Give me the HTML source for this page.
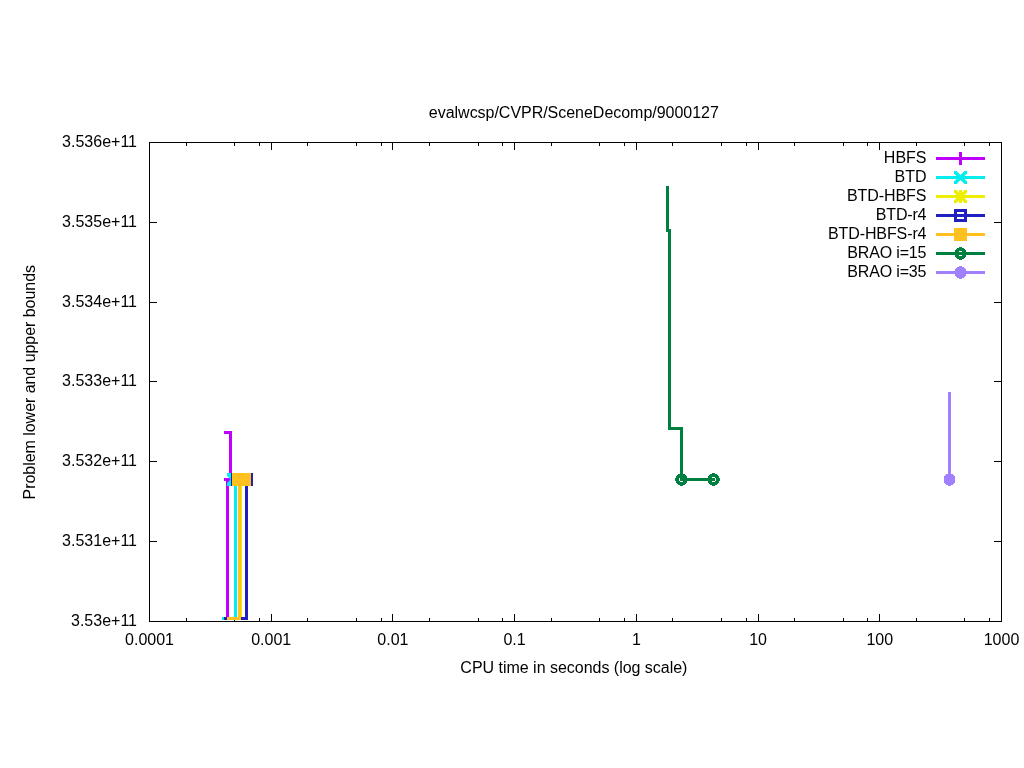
<!DOCTYPE html>
<html><head><meta charset="utf-8"><style>
html,body{margin:0;padding:0;background:#fff;}
svg{display:block;will-change:transform;}
</style></head><body>
<svg width="1024" height="768" viewBox="0 0 1024 768">
<rect width="1024" height="768" fill="#fff"/>
<g shape-rendering="crispEdges">
<rect x="149" y="142" width="853" height="1" fill="#000"/>
<rect x="149" y="621" width="853" height="1" fill="#000"/>
<rect x="149" y="142" width="1" height="480" fill="#000"/>
<rect x="1001" y="142" width="1" height="480" fill="#000"/>
<rect x="149" y="222" width="8" height="1" fill="#000"/>
<rect x="994" y="222" width="8" height="1" fill="#000"/>
<rect x="149" y="302" width="8" height="1" fill="#000"/>
<rect x="994" y="302" width="8" height="1" fill="#000"/>
<rect x="149" y="381" width="8" height="1" fill="#000"/>
<rect x="994" y="381" width="8" height="1" fill="#000"/>
<rect x="149" y="461" width="8" height="1" fill="#000"/>
<rect x="994" y="461" width="8" height="1" fill="#000"/>
<rect x="149" y="541" width="8" height="1" fill="#000"/>
<rect x="994" y="541" width="8" height="1" fill="#000"/>
<rect x="186" y="618" width="1" height="4" fill="#000"/>
<rect x="186" y="142" width="1" height="4" fill="#000"/>
<rect x="234" y="618" width="1" height="4" fill="#000"/>
<rect x="234" y="142" width="1" height="4" fill="#000"/>
<rect x="259" y="618" width="1" height="4" fill="#000"/>
<rect x="259" y="142" width="1" height="4" fill="#000"/>
<rect x="271" y="614" width="1" height="8" fill="#000"/>
<rect x="271" y="142" width="1" height="8" fill="#000"/>
<rect x="307" y="618" width="1" height="4" fill="#000"/>
<rect x="307" y="142" width="1" height="4" fill="#000"/>
<rect x="356" y="618" width="1" height="4" fill="#000"/>
<rect x="356" y="142" width="1" height="4" fill="#000"/>
<rect x="381" y="618" width="1" height="4" fill="#000"/>
<rect x="381" y="142" width="1" height="4" fill="#000"/>
<rect x="392" y="614" width="1" height="8" fill="#000"/>
<rect x="392" y="142" width="1" height="8" fill="#000"/>
<rect x="429" y="618" width="1" height="4" fill="#000"/>
<rect x="429" y="142" width="1" height="4" fill="#000"/>
<rect x="478" y="618" width="1" height="4" fill="#000"/>
<rect x="478" y="142" width="1" height="4" fill="#000"/>
<rect x="502" y="618" width="1" height="4" fill="#000"/>
<rect x="502" y="142" width="1" height="4" fill="#000"/>
<rect x="514" y="614" width="1" height="8" fill="#000"/>
<rect x="514" y="142" width="1" height="8" fill="#000"/>
<rect x="551" y="618" width="1" height="4" fill="#000"/>
<rect x="551" y="142" width="1" height="4" fill="#000"/>
<rect x="599" y="618" width="1" height="4" fill="#000"/>
<rect x="599" y="142" width="1" height="4" fill="#000"/>
<rect x="624" y="618" width="1" height="4" fill="#000"/>
<rect x="624" y="142" width="1" height="4" fill="#000"/>
<rect x="636" y="614" width="1" height="8" fill="#000"/>
<rect x="636" y="142" width="1" height="8" fill="#000"/>
<rect x="672" y="618" width="1" height="4" fill="#000"/>
<rect x="672" y="142" width="1" height="4" fill="#000"/>
<rect x="721" y="618" width="1" height="4" fill="#000"/>
<rect x="721" y="142" width="1" height="4" fill="#000"/>
<rect x="746" y="618" width="1" height="4" fill="#000"/>
<rect x="746" y="142" width="1" height="4" fill="#000"/>
<rect x="758" y="614" width="1" height="8" fill="#000"/>
<rect x="758" y="142" width="1" height="8" fill="#000"/>
<rect x="794" y="618" width="1" height="4" fill="#000"/>
<rect x="794" y="142" width="1" height="4" fill="#000"/>
<rect x="843" y="618" width="1" height="4" fill="#000"/>
<rect x="843" y="142" width="1" height="4" fill="#000"/>
<rect x="867" y="618" width="1" height="4" fill="#000"/>
<rect x="867" y="142" width="1" height="4" fill="#000"/>
<rect x="879" y="614" width="1" height="8" fill="#000"/>
<rect x="879" y="142" width="1" height="8" fill="#000"/>
<rect x="916" y="618" width="1" height="4" fill="#000"/>
<rect x="916" y="142" width="1" height="4" fill="#000"/>
<rect x="964" y="618" width="1" height="4" fill="#000"/>
<rect x="964" y="142" width="1" height="4" fill="#000"/>
<rect x="989" y="618" width="1" height="4" fill="#000"/>
<rect x="989" y="142" width="1" height="4" fill="#000"/>
</g>
<g>
<path d="M224,432.5 L230.5,432.5 L230.5,479.5" fill="none" stroke="#C000FF" stroke-width="3" stroke-linejoin="miter" stroke-linecap="butt"/>
<path d="M222,618.5 L227.5,618.5 L227.5,479.5 L230.5,479.5" fill="none" stroke="#C000FF" stroke-width="3" stroke-linejoin="miter" stroke-linecap="butt"/>
<rect x="224.0" y="478.0" width="13" height="3" fill="#C000FF" shape-rendering="crispEdges"/>
<rect x="229.0" y="473.0" width="3" height="13" fill="#C000FF" shape-rendering="crispEdges"/>
<path d="M222,618.5 L235.5,618.5 L235.5,479.5" fill="none" stroke="#00EEEE" stroke-width="3" stroke-linejoin="miter" stroke-linecap="butt"/>
<path d="M228.5,474.5 L238.5,484.5 M228.5,484.5 L238.5,474.5" stroke="#00EEEE" stroke-width="4" fill="none"/>
<rect x="227.0" y="473.0" width="4" height="3" fill="#00EEEE" shape-rendering="crispEdges"/>
<rect x="236.0" y="473.0" width="4" height="3" fill="#00EEEE" shape-rendering="crispEdges"/>
<rect x="227.0" y="483.0" width="4" height="3" fill="#00EEEE" shape-rendering="crispEdges"/>
<rect x="236.0" y="483.0" width="4" height="3" fill="#00EEEE" shape-rendering="crispEdges"/>
<path d="M224,618.5 L240.5,618.5 L240.5,479.5" fill="none" stroke="#EEEE00" stroke-width="3" stroke-linejoin="miter" stroke-linecap="butt"/>
<path d="M235.5,474.5 L245.5,484.5 M235.5,484.5 L245.5,474.5" stroke="#EEEE00" stroke-width="3.4" fill="none"/>
<rect x="234.0" y="473.0" width="3" height="3" fill="#EEEE00" shape-rendering="crispEdges"/>
<rect x="244.0" y="473.0" width="3" height="3" fill="#EEEE00" shape-rendering="crispEdges"/>
<rect x="234.0" y="483.0" width="3" height="3" fill="#EEEE00" shape-rendering="crispEdges"/>
<rect x="244.0" y="483.0" width="3" height="3" fill="#EEEE00" shape-rendering="crispEdges"/>
<rect x="234.0" y="478.0" width="13" height="3" fill="#EEEE00" shape-rendering="crispEdges"/>
<rect x="239.0" y="473.0" width="3" height="13" fill="#EEEE00" shape-rendering="crispEdges"/>
<path d="M224,618.5 L246.5,618.5 L246.5,479.5" fill="none" stroke="#2020C0" stroke-width="3" stroke-linejoin="miter" stroke-linecap="butt"/>
<rect x="232.5" y="474.5" width="10" height="10" stroke="#2020C0" stroke-width="3" fill="none" shape-rendering="crispEdges"/>
<rect x="241.5" y="474.5" width="10" height="10" stroke="#2020C0" stroke-width="3" fill="none" shape-rendering="crispEdges"/>
<path d="M227,618.5 L239.5,618.5 L239.5,479.5 L244.5,479.5" fill="none" stroke="#FFC020" stroke-width="3" stroke-linejoin="miter" stroke-linecap="butt"/>
<rect x="232.0" y="473.0" width="13" height="13" fill="#FFC020" shape-rendering="crispEdges"/>
<rect x="238.0" y="473.0" width="13" height="13" fill="#FFC020" shape-rendering="crispEdges"/>
<path d="M667.5,186 L667.5,230.5 L669.5,230.5 L669.5,428.5 L681.5,428.5 L681.5,479.5 L715,479.5" fill="none" stroke="#008040" stroke-width="3" stroke-linejoin="miter" stroke-linecap="butt"/>
<path d="M680,473h3v1h-3zM678,474h7v1h-7zM677,475h9v1h-9zM676,476h11v1h-11zM676,477h4v1h-4zM683,477h4v1h-4zM675,478h4v1h-4zM683,478h4v1h-4zM675,479h4v1h-4zM683,479h4v1h-4zM675,480h4v1h-4zM683,480h4v1h-4zM676,481h4v1h-4zM683,481h4v1h-4zM676,482h11v1h-11zM677,483h9v1h-9zM678,484h7v1h-7zM680,485h3v1h-3z" fill="#008040" shape-rendering="crispEdges"/>
<path d="M712,473h3v1h-3zM710,474h7v1h-7zM709,475h9v1h-9zM708,476h11v1h-11zM708,477h4v1h-4zM715,477h4v1h-4zM708,478h4v1h-4zM716,478h4v1h-4zM708,479h4v1h-4zM716,479h4v1h-4zM708,480h4v1h-4zM716,480h4v1h-4zM708,481h4v1h-4zM715,481h4v1h-4zM708,482h11v1h-11zM709,483h9v1h-9zM710,484h7v1h-7zM712,485h3v1h-3z" fill="#008040" shape-rendering="crispEdges"/>
<path d="M949.5,392 L949.5,479.5" fill="none" stroke="#A080FF" stroke-width="3" stroke-linejoin="miter" stroke-linecap="butt"/>
<path d="M948,473h3v1h-3zM946,474h7v1h-7zM945,475h9v1h-9zM944,476h11v1h-11zM944,477h11v1h-11zM944,478h11v1h-11zM944,479h11v1h-11zM944,480h11v1h-11zM944,481h11v1h-11zM944,482h11v1h-11zM945,483h9v1h-9zM946,484h7v1h-7zM948,485h3v1h-3z" fill="#A080FF" shape-rendering="crispEdges"/>
<path d="M936,158.5 L985,158.5" fill="none" stroke="#C000FF" stroke-width="3" stroke-linejoin="miter" stroke-linecap="butt"/>
<rect x="954.0" y="157.0" width="13" height="3" fill="#C000FF" shape-rendering="crispEdges"/>
<rect x="959.0" y="152.0" width="3" height="13" fill="#C000FF" shape-rendering="crispEdges"/>
<path d="M936,177.5 L985,177.5" fill="none" stroke="#00EEEE" stroke-width="3" stroke-linejoin="miter" stroke-linecap="butt"/>
<path d="M955.5,172.5 L965.5,182.5 M955.5,182.5 L965.5,172.5" stroke="#00EEEE" stroke-width="3.4" fill="none"/>
<rect x="954.0" y="171.0" width="3" height="3" fill="#00EEEE" shape-rendering="crispEdges"/>
<rect x="964.0" y="171.0" width="3" height="3" fill="#00EEEE" shape-rendering="crispEdges"/>
<rect x="954.0" y="181.0" width="3" height="3" fill="#00EEEE" shape-rendering="crispEdges"/>
<rect x="964.0" y="181.0" width="3" height="3" fill="#00EEEE" shape-rendering="crispEdges"/>
<path d="M936,196.5 L985,196.5" fill="none" stroke="#EEEE00" stroke-width="3" stroke-linejoin="miter" stroke-linecap="butt"/>
<path d="M955.5,191.5 L965.5,201.5 M955.5,201.5 L965.5,191.5" stroke="#EEEE00" stroke-width="3.4" fill="none"/>
<rect x="954.0" y="190.0" width="3" height="3" fill="#EEEE00" shape-rendering="crispEdges"/>
<rect x="964.0" y="190.0" width="3" height="3" fill="#EEEE00" shape-rendering="crispEdges"/>
<rect x="954.0" y="200.0" width="3" height="3" fill="#EEEE00" shape-rendering="crispEdges"/>
<rect x="964.0" y="200.0" width="3" height="3" fill="#EEEE00" shape-rendering="crispEdges"/>
<rect x="954.0" y="195.0" width="13" height="3" fill="#EEEE00" shape-rendering="crispEdges"/>
<rect x="959.0" y="190.0" width="3" height="13" fill="#EEEE00" shape-rendering="crispEdges"/>
<path d="M936,215.5 L985,215.5" fill="none" stroke="#2020C0" stroke-width="3" stroke-linejoin="miter" stroke-linecap="butt"/>
<rect x="955.5" y="210.5" width="10" height="10" stroke="#2020C0" stroke-width="3" fill="none" shape-rendering="crispEdges"/>
<path d="M936,234.5 L985,234.5" fill="none" stroke="#FFC020" stroke-width="3" stroke-linejoin="miter" stroke-linecap="butt"/>
<rect x="954.0" y="228.0" width="13" height="13" fill="#FFC020" shape-rendering="crispEdges"/>
<path d="M936,253.5 L985,253.5" fill="none" stroke="#008040" stroke-width="3" stroke-linejoin="miter" stroke-linecap="butt"/>
<path d="M959,247h3v1h-3zM957,248h7v1h-7zM956,249h9v1h-9zM955,250h11v1h-11zM955,251h4v1h-4zM962,251h4v1h-4zM955,252h4v1h-4zM962,252h4v1h-4zM955,253h4v1h-4zM962,253h4v1h-4zM955,254h4v1h-4zM962,254h4v1h-4zM955,255h4v1h-4zM962,255h4v1h-4zM955,256h11v1h-11zM956,257h9v1h-9zM957,258h7v1h-7zM959,259h3v1h-3z" fill="#008040" shape-rendering="crispEdges"/>
<path d="M936,272.5 L985,272.5" fill="none" stroke="#A080FF" stroke-width="3" stroke-linejoin="miter" stroke-linecap="butt"/>
<path d="M959,266h3v1h-3zM957,267h7v1h-7zM956,268h9v1h-9zM955,269h11v1h-11zM955,270h11v1h-11zM955,271h11v1h-11zM955,272h11v1h-11zM955,273h11v1h-11zM955,274h11v1h-11zM955,275h11v1h-11zM956,276h9v1h-9zM957,277h7v1h-7zM959,278h3v1h-3z" fill="#A080FF" shape-rendering="crispEdges"/>
</g>
<g font-family="Liberation Sans, Arial, sans-serif" font-size="16" fill="#000">
<text x="137" y="147" text-anchor="end">3.536e+11</text>
<text x="137" y="227" text-anchor="end">3.535e+11</text>
<text x="137" y="307" text-anchor="end">3.534e+11</text>
<text x="137" y="386" text-anchor="end">3.533e+11</text>
<text x="137" y="466" text-anchor="end">3.532e+11</text>
<text x="137" y="546" text-anchor="end">3.531e+11</text>
<text x="137" y="626" text-anchor="end">3.53e+11</text>
<text x="149.5" y="645" text-anchor="middle">0.0001</text>
<text x="271.2" y="645" text-anchor="middle">0.001</text>
<text x="392.9" y="645" text-anchor="middle">0.01</text>
<text x="514.6" y="645" text-anchor="middle">0.1</text>
<text x="636.4" y="645" text-anchor="middle">1</text>
<text x="758.1" y="645" text-anchor="middle">10</text>
<text x="879.8" y="645" text-anchor="middle">100</text>
<text x="1001.5" y="645" text-anchor="middle">1000</text>
<text x="573.85" y="118" text-anchor="middle" textLength="290">evalwcsp/CVPR/SceneDecomp/9000127</text>
<text x="573.9" y="673" text-anchor="middle" textLength="227.1">CPU time in seconds (log scale)</text>
<text transform="translate(35,382.2) rotate(-90)" text-anchor="middle" textLength="234.5">Problem lower and upper bounds</text>
<text x="926.5" y="163.0" text-anchor="end">HBFS</text>
<text x="926.5" y="182.0" text-anchor="end">BTD</text>
<text x="926.5" y="201.0" text-anchor="end" textLength="79.5">BTD-HBFS</text>
<text x="926.5" y="220.0" text-anchor="end" textLength="50.7">BTD-r4</text>
<text x="926.5" y="239.0" text-anchor="end" textLength="98.5">BTD-HBFS-r4</text>
<text x="926.5" y="258.0" text-anchor="end" textLength="79.3">BRAO i=15</text>
<text x="926.5" y="277.0" text-anchor="end" textLength="79.3">BRAO i=35</text>
</g>
</svg>
</body></html>
